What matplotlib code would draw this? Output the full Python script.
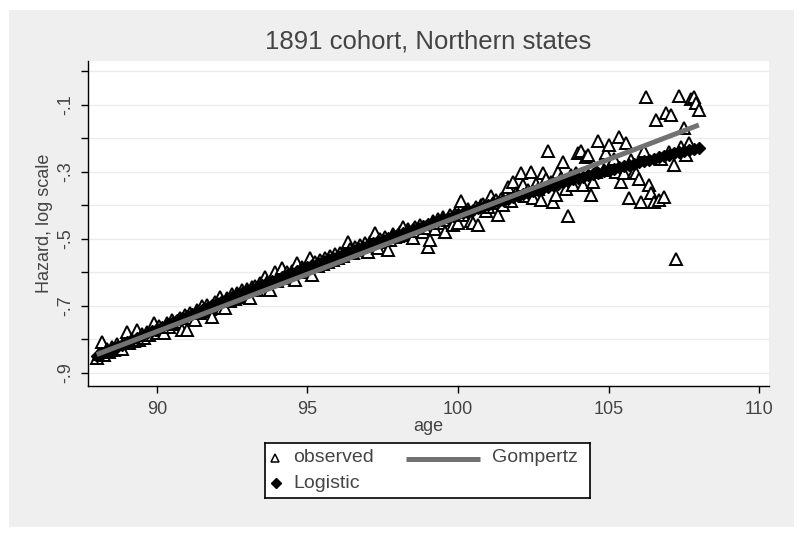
import numpy as np
import matplotlib.pyplot as plt
from matplotlib.patches import Rectangle

plt.rcParams['font.family'] = ['Liberation Sans', 'DejaVu Sans']

# observed log hazard, one value per month of age, 88.0 .. 108.0
obs = [
    -0.855, -0.842, -0.807, -0.846, -0.828, -0.838, -0.822, -0.833, -0.815, -0.826, -0.829, -0.807,  # 88
    -0.779, -0.812, -0.798, -0.806, -0.772, -0.801, -0.784, -0.795, -0.778, -0.788, -0.770, -0.752,  # 89
    -0.782, -0.760, -0.771, -0.782, -0.750, -0.762, -0.741, -0.755, -0.748, -0.736, -0.772, -0.728,  # 90
    -0.772, -0.722, -0.735, -0.742, -0.712, -0.720, -0.700, -0.716, -0.698, -0.709, -0.734, -0.688,  # 91
    -0.695, -0.672, -0.707, -0.707, -0.676, -0.684, -0.665, -0.679, -0.660, -0.672, -0.652, -0.666,  # 92
    -0.650, -0.677, -0.645, -0.640, -0.652, -0.633, -0.641, -0.613, -0.630, -0.652, -0.620, -0.598,  # 93
    -0.625, -0.606, -0.588, -0.617, -0.600, -0.611, -0.596, -0.622, -0.573, -0.598, -0.584, -0.594,  # 94
    -0.590, -0.558, -0.607, -0.570, -0.580, -0.562, -0.574, -0.556, -0.568, -0.552, -0.563, -0.545,  # 95
    -0.556, -0.542, -0.550, -0.535, -0.508, -0.531, -0.541, -0.524, -0.533, -0.518, -0.527, -0.512,  # 96
    -0.538, -0.510, -0.520, -0.483, -0.528, -0.500, -0.508, -0.495, -0.533, -0.502, -0.486, -0.495,  # 97
    -0.490, -0.478, -0.463, -0.488, -0.470, -0.482, -0.498, -0.465, -0.475, -0.458, -0.480, -0.466,  # 98
    -0.523, -0.503, -0.447, -0.470, -0.440, -0.452, -0.436, -0.478, -0.444, -0.430, -0.458, -0.425,  # 99
    -0.453, -0.388, -0.430, -0.418, -0.410, -0.448, -0.453, -0.404, -0.458, -0.400, -0.395, -0.418,  # 100
    -0.405, -0.372, -0.392, -0.384, -0.428, -0.380, -0.398, -0.370, -0.344, -0.388, -0.329, -0.362,  # 101
    -0.365, -0.304, -0.340, -0.372, -0.355, -0.299, -0.379, -0.335, -0.350, -0.384, -0.304, -0.322,  # 102
    -0.239, -0.330, -0.389, -0.368, -0.299, -0.318, -0.270, -0.352, -0.433, -0.310, -0.340, -0.302,  # 103
    -0.244, -0.239, -0.339, -0.255, -0.249, -0.369, -0.329, -0.300, -0.209, -0.280, -0.295, -0.244,  # 104
    -0.220, -0.280, -0.262, -0.300, -0.195, -0.329, -0.304, -0.215, -0.379, -0.265, -0.299, -0.304,  # 105
    -0.322, -0.389, -0.239, -0.075, -0.339, -0.364, -0.389, -0.145, -0.384, -0.262, -0.374, -0.125,  # 106
    -0.240, -0.130, -0.279, -0.559, -0.072, -0.225, -0.170, -0.249, -0.215, -0.082, -0.075, -0.095,  # 107
    -0.115,
]
obs_age = np.linspace(88, 108, len(obs))

# logistic fit, every two months
logit = [
    -0.850, -0.843, -0.836, -0.830, -0.823, -0.816,
    -0.809, -0.802, -0.796, -0.789, -0.782, -0.776,
    -0.769, -0.763, -0.756, -0.750, -0.743, -0.737,
    -0.730, -0.724, -0.717, -0.711, -0.705, -0.698,
    -0.692, -0.686, -0.680, -0.674, -0.667, -0.661,
    -0.655, -0.649, -0.643, -0.637, -0.631, -0.625,
    -0.619, -0.613, -0.607, -0.602, -0.596, -0.590,
    -0.584, -0.578, -0.573, -0.567, -0.561, -0.556,
    -0.550, -0.544, -0.539, -0.534, -0.528, -0.523,
    -0.517, -0.512, -0.507, -0.502, -0.496, -0.491,
    -0.486, -0.481, -0.476, -0.471, -0.466, -0.461,
    -0.456, -0.451, -0.446, -0.442, -0.437, -0.432,
    -0.427, -0.422, -0.418, -0.413, -0.408, -0.404,
    -0.399, -0.394, -0.390, -0.385, -0.380, -0.376,
    -0.371, -0.367, -0.362, -0.358, -0.353, -0.349,
    -0.344, -0.340, -0.335, -0.331, -0.327, -0.322,
    -0.318, -0.314, -0.310, -0.306, -0.302, -0.298,
    -0.294, -0.290, -0.286, -0.282, -0.279, -0.275,
    -0.271, -0.267, -0.264, -0.260, -0.256, -0.253,
    -0.249, -0.245, -0.242, -0.238, -0.235, -0.231,
    -0.228,
]
logit_age = np.linspace(88, 108, len(logit))

# gompertz fit is a straight line in log hazard
gomp_age = [88, 108]
gomp = [-0.845, -0.160]

xticks = [90, 95, 100, 105, 110]
yticks = [-0.9, -0.7, -0.5, -0.3, -0.1]
ylabels = ['-.9', '-.7', '-.5', '-.3', '-.1']
yminor = [-0.8, -0.6, -0.4, -0.2, 0.0]

txt = '#444444'
gray = '#727272'

fig = plt.figure(figsize=(8, 5.34), dpi=100)
fig.patches.append(Rectangle((9/800, 7/534), 785/800, 517/534, transform=fig.transFigure,
                             facecolor='#efefef', edgecolor='none', zorder=-10))

ax = fig.add_axes([88/800, (534-386)/534, (769-88)/800, (386-61)/534])
ax.set_facecolor('white')

ax.plot(obs_age, obs, ls='none', marker='^', ms=8, mfc='white', mec='black', mew=1.4, zorder=3)
ax.plot(logit_age, logit, ls='none', marker='D', ms=6.5, color='black', zorder=4)
ax.plot(gomp_age, gomp, color=gray, lw=3.6, solid_capstyle='butt', zorder=5)

ax.set_xlim(87.71, 110.33)
ax.set_ylim(-0.939, 0.031)
ax.set_xticks(xticks)
ax.set_yticks(yticks)
ax.set_yticklabels(ylabels, rotation=90, va='center')
ax.set_yticks(yminor, minor=True)
ax.grid(which='both', axis='y', color='#ebebeb', lw=0.9, zorder=0)
ax.set_axisbelow(True)
ax.tick_params(which='both', direction='out', length=5, width=1, color='black',
               labelsize=13, labelcolor=txt)
ax.tick_params(axis='x', pad=6)
ax.tick_params(axis='y', pad=5)
for s in ['top', 'right']:
    ax.spines[s].set_visible(False)
for s in ['left', 'bottom']:
    ax.spines[s].set_linewidth(1)

ax.set_xlabel('age', fontsize=13, color=txt, labelpad=0)
ax.set_ylabel('Hazard, log scale', fontsize=13, color=txt, labelpad=3)
ax.set_title('1891 cohort, Northern states', fontsize=18.5, color=txt, pad=9)

# legend box drawn below the plot
lg = fig.add_axes([265/800, (534-498)/534, 325/800, 55/534])
lg.set_xlim(0, 325)
lg.set_ylim(55, 0)
lg.set_xticks([])
lg.set_yticks([])
for s in lg.spines.values():
    s.set_linewidth(1.2)
    s.set_color('black')
lg.plot([10], [15], marker='^', ms=5.5, mfc='white', mec='black', mew=1.1)
lg.text(28, 15, 'observed', fontsize=14, color=txt, va='center')
lg.plot([141, 215], [16, 16], color=gray, lw=3.6, solid_capstyle='butt')
lg.text(227, 15, 'Gompertz', fontsize=14, color=txt, va='center')
lg.plot([11], [40], marker='D', ms=5, color='black')
lg.text(28, 40, 'Logistic', fontsize=14, color=txt, va='center')

fig.savefig('out.png', dpi=100)
